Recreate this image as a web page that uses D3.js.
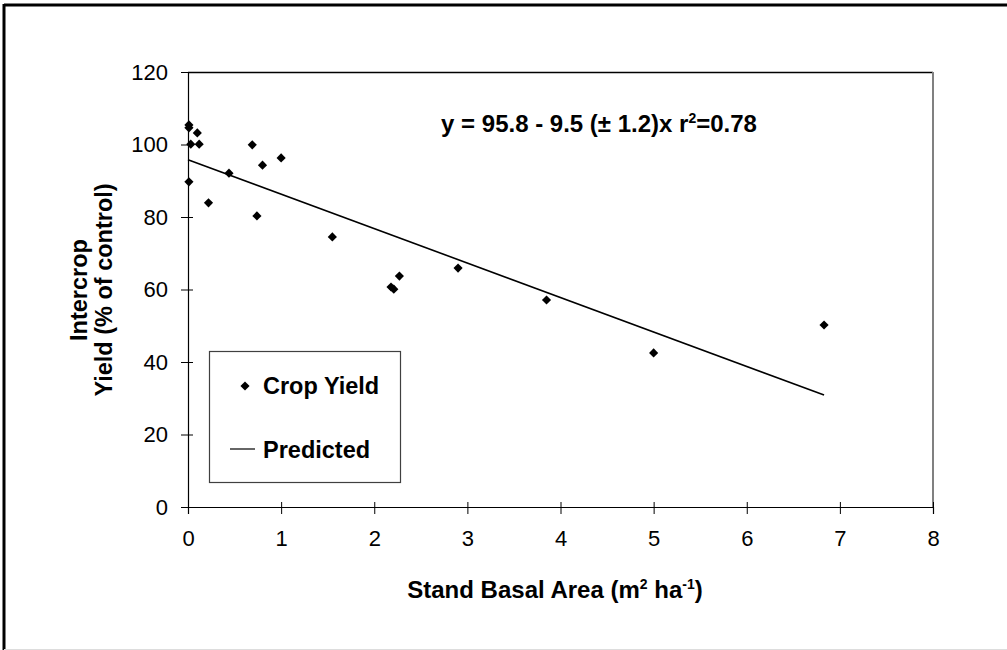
<!DOCTYPE html>
<html>
<head>
<meta charset="utf-8">
<script src="https://cdn.jsdelivr.net/npm/d3@7"></script>
<style>
  body { margin: 0; background: #fff; }
  svg text { font-family: "Liberation Sans", Arial, sans-serif; fill: #000; }
</style>
</head>
<body>
<div id="chart"></div>
<script>
// stand basal area (m2/ha) and crop yield (% of control)
const basalArea = [0.01, 0.01, 0.10, 0.03, 0.12, 0.01, 0.22, 0.44, 0.69, 0.74, 0.80, 1.00,
                   1.55, 2.18, 2.21, 2.27, 2.90, 3.85, 5.00, 6.83];
const cropYield = [105.4, 104.6, 103.2, 100.1, 100.1, 89.7, 83.9, 92.1, 99.9, 80.3, 94.3, 96.3,
                   74.5, 60.7, 60.1, 63.7, 65.9, 57.1, 42.5, 50.2];
// fitted line ends
const predX = [0, 6.83];
const predY = [95.8, 30.9];
const xTicks = [0, 1, 2, 3, 4, 5, 6, 7, 8];
const yTicks = [0, 20, 40, 60, 80, 100, 120];
const seriesNames = ["Crop Yield", "Predicted"];

const W = 1007, H = 650;
const svg = d3.select("#chart").append("svg")
    .attr("width", W).attr("height", H);

// outer chart frame (left + top black, bottom light)
svg.append("line").attr("x1", 4).attr("x2", 4).attr("y1", 4).attr("y2", H)
    .attr("stroke", "#000").attr("stroke-width", 3);
svg.append("line").attr("x1", 4).attr("x2", W).attr("y1", 5).attr("y2", 5)
    .attr("stroke", "#000").attr("stroke-width", 3);
svg.append("line").attr("x1", 4).attr("x2", W).attr("y1", 649.5).attr("y2", 649.5)
    .attr("stroke", "#ddd").attr("stroke-width", 1);

const x = d3.scaleLinear().domain([0, 8]).range([188, 933]);
const y = d3.scaleLinear().domain([0, 120]).range([507, 72]);

// plot area border: top black, right grey
svg.append("line").attr("x1", 188).attr("x2", 933).attr("y1", 72.5).attr("y2", 72.5)
    .attr("stroke", "#000").attr("stroke-width", 1.5);
svg.append("line").attr("x1", 933).attr("x2", 933).attr("y1", 72).attr("y2", 507)
    .attr("stroke", "#808080").attr("stroke-width", 2);

// axes
const xAxis = svg.append("g")
    .attr("transform", `translate(0,${y(0)})`)
    .call(d3.axisBottom(x).tickValues(xTicks).tickSize(7).tickPadding(16).tickFormat(d3.format("d")));
const yAxis = svg.append("g")
    .attr("transform", `translate(${x(0)},0)`)
    .call(d3.axisLeft(y).tickValues(yTicks).tickSize(7).tickPadding(13).tickFormat(d3.format("d")));

[xAxis, yAxis].forEach(a => {
    a.select(".domain").attr("stroke", "#000").attr("stroke-width", 1.2);
    a.selectAll(".tick line").attr("stroke", "#000");
    a.selectAll(".tick text").style("font-size", "22px").attr("fill", "#000");
});
// ticks cross the axis a little
xAxis.selectAll(".tick line").attr("y1", -5);
yAxis.selectAll(".tick line").attr("x1", 5);

// predicted line
svg.append("path")
    .datum(predX.map((d, i) => [d, predY[i]]))
    .attr("d", d3.line().x(d => x(d[0])).y(d => y(d[1])))
    .attr("fill", "none").attr("stroke", "#000").attr("stroke-width", 1.6);

// data points (diamonds)
const diamond = d3.symbol().type(d3.symbolSquare).size(42);
svg.selectAll(".pt")
    .data(basalArea.map((d, i) => [d, cropYield[i]]))
    .join("path")
    .attr("class", "pt")
    .attr("d", diamond)
    .attr("transform", d => `translate(${x(d[0])},${y(d[1])}) rotate(45)`)
    .attr("fill", "#000");

// equation
const eq = svg.append("text")
    .attr("x", 599).attr("y", 132)
    .attr("text-anchor", "middle")
    .style("font-size", "24px").style("font-weight", "bold");
eq.append("tspan").text("y = 95.8 - 9.5 (\u00b1 1.2)x r");
eq.append("tspan").attr("dy", -9).style("font-size", "14px").text("2");
eq.append("tspan").attr("dy", 9).text("=0.78");

// legend
const lg = svg.append("g");
lg.append("rect").attr("x", 209.5).attr("y", 351.5).attr("width", 191).attr("height", 131)
    .attr("fill", "#fff").attr("stroke", "#404040").attr("stroke-width", 1.2);
lg.append("path").attr("d", diamond)
    .attr("transform", "translate(245,386) rotate(45)").attr("fill", "#000");
lg.append("line").attr("x1", 230).attr("x2", 255).attr("y1", 449).attr("y2", 449)
    .attr("stroke", "#000").attr("stroke-width", 1.2);
lg.selectAll(".lt")
    .data(seriesNames)
    .join("text")
    .attr("x", 263)
    .attr("y", (d, i) => i === 0 ? 394 : 458)
    .style("font-size", "23.5px").style("font-weight", "bold")
    .text(d => d);

// x axis title
const xt = svg.append("text")
    .attr("x", 555).attr("y", 598)
    .attr("text-anchor", "middle")
    .style("font-size", "24px").style("font-weight", "bold");
xt.append("tspan").text("Stand Basal Area (m");
xt.append("tspan").attr("dy", -9).style("font-size", "14px").text("2");
xt.append("tspan").attr("dy", 9).text(" ha");
xt.append("tspan").attr("dy", -9).style("font-size", "14px").text("-1");
xt.append("tspan").attr("dy", 9).text(")");

// y axis title, two lines
const yt = svg.append("text")
    .attr("transform", "translate(0,290) rotate(-90)")
    .attr("text-anchor", "middle")
    .style("font-size", "23.5px").style("font-weight", "bold");
yt.append("tspan").attr("x", 0).attr("y", 87).text("Intercrop");
yt.append("tspan").attr("x", 0).attr("y", 112).text("Yield (% of control)");
</script>
</body>
</html>
